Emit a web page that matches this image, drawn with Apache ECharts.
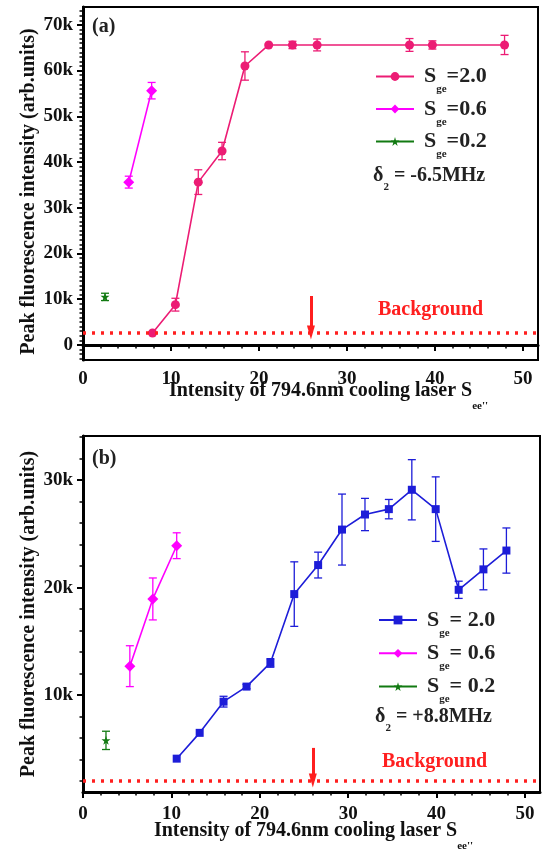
<!DOCTYPE html>
<html><head><meta charset="utf-8">
<script src="https://cdn.jsdelivr.net/npm/echarts@6/dist/echarts.min.js"></script>
<style>html,body{margin:0;padding:0;background:#fff}#c{width:543px;height:854px}</style>
</head><body><div id="c"></div>
<script>
// ---------- Panel (a) ----------
const a20X = [7.9, 10.5, 13.1, 15.8, 18.4, 21.1, 23.8, 26.6, 37.1, 39.7, 47.9];
const a20Y = [2600, 8800, 35600, 42400, 61000, 65600, 65600, 65600, 65600, 65600, 65600];
const a20E = [0, 1400, 2700, 1900, 3100, 0, 800, 1300, 1400, 900, 2100];
const a06X = [5.2, 7.8];
const a06Y = [35600, 55600];
const a06E = [1300, 1800];
const a02X = [2.5];
const a02Y = [10500];
const a02E = [800];
const aBackground = 2700;
const aArrow = [25.9, 10700];
// ---------- Panel (b) ----------
const b20X = [10.6, 13.2, 15.9, 18.5, 21.2, 23.9, 26.6, 29.3, 31.9, 34.6, 37.2, 39.9, 42.5, 45.3, 47.9];
const b20Y = [4100, 6500, 9400, 10800, 13000, 19400, 22100, 25400, 26800, 27300, 29100, 27300, 19800, 21700, 23450];
const b20E = [0, 0, 500, 200, 400, 3000, 1200, 3300, 1500, 900, 2800, 3000, 800, 1900, 2100];
const b06X = [5.3, 7.9, 10.6];
const b06Y = [12700, 18950, 23900];
const b06E = [1900, 1950, 1200];
const b02X = [2.6];
const b02Y = [5800];
const b02E = [850];
const bBackground = 2070;
const bArrow = [26.0, 5100];
// ---------- ticks ----------
const xTicks = [0, 10, 20, 30, 40, 50];
const aYTicks = [0, 10000, 20000, 30000, 40000, 50000, 60000, 70000];
const bYTicks = [10000, 20000, 30000];
const xMinor = [], aYMinor = [], bYMinor = [];
for (let v = 2; v <= 50; v += 2) if (v % 10) xMinor.push(v);
for (let v = -3000; v <= 73000; v += 1000) if (v % 10000) aYMinor.push(v);
for (let v = 2000; v <= 34000; v += 2000) if (v % 10000) bYMinor.push(v);

const legendNames = {
  a20: '{s|S}{g|ge}{v|=2.0}', a06: '{s|S}{g|ge}{v|=0.6}', a02: '{s|S}{g|ge}{v|=0.2}',
  b20: '{s|S}{g|ge}{v|= 2.0}', b06: '{s|S}{g|ge}{v|= 0.6}', b02: '{s|S}{g|ge}{v|= 0.2}'
};

const FONT = '"Liberation Serif", "Times New Roman", serif';
const PINK = '#ec1c74', MAG = '#ff00ff', GREEN = '#127a12', BLUE = '#1d1dd8', RED = '#ff1f1f';
const STAR = 'path://M50,0 L61,35 L98,35 L68,57 L79,91 L50,70 L21,91 L32,57 L2,35 L39,35 Z';

function mkX(grid, labelMargin, nameGap, padLeft) {
  return [
    {type: 'value', gridIndex: grid, min: 0, max: 51.7, position: 'bottom',
     axisLine: {show: true, lineStyle: {color: '#000', width: 3}},
     axisTick: {show: true, customValues: xTicks, length: 6, lineStyle: {color: '#000', width: 2}},
     axisLabel: {customValues: xTicks, margin: labelMargin, fontSize: 19, fontWeight: 'bold', fontFamily: FONT, color: '#111'},
     splitLine: {show: false},
     name: "{t|Intensity of 794.6nm cooling laser S}{s|ee''}", nameLocation: 'middle', nameGap: nameGap,
     nameMoveOverlap: false,
     nameTextStyle: {padding: [0, 0, 0, padLeft], rich: {
       t: {fontSize: 20, fontWeight: 'bold', fontFamily: FONT, color: '#111', lineHeight: 22},
       s: {fontSize: 11, fontWeight: 'bold', fontFamily: FONT, color: '#111', lineHeight: 11, padding: [30, 0, 0, 0]}}}},
    {type: 'value', gridIndex: grid, min: 0, max: 51.7, position: 'bottom',
     axisLine: {show: false},
     axisTick: {show: true, customValues: xMinor, length: 3.5, lineStyle: {color: '#000', width: 1.5}},
     axisLabel: {show: false}, splitLine: {show: false}}
  ];
}
function mkY(grid, min, max, ticks, minor, padRight) {
  return [
    {type: 'value', gridIndex: grid, min: min, max: max, position: 'left',
     axisLine: {show: true, lineStyle: {color: '#000', width: 3}},
     axisTick: {show: true, customValues: ticks, length: 6, lineStyle: {color: '#000', width: 2}},
     axisLabel: {customValues: ticks, margin: 10, fontSize: 19, fontWeight: 'bold', fontFamily: FONT, color: '#111',
       formatter: v => v === 0 ? '0' : (v / 1000) + 'k'},
     splitLine: {show: false},
     name: 'Peak fluorescence intensity (arb.units)', nameLocation: 'middle', nameGap: 44,
     nameMoveOverlap: false,
     nameTextStyle: {fontSize: 20, fontWeight: 'bold', fontFamily: FONT, color: '#111', padding: [0, padRight, 0, 0]}},
    {type: 'value', gridIndex: grid, min: min, max: max, position: 'left',
     axisLine: {show: false},
     axisTick: {show: true, customValues: minor, length: 3.5, lineStyle: {color: '#000', width: 1.5}},
     axisLabel: {show: false}, splitLine: {show: false}}
  ];
}
function pts(xs, ys) { return xs.map((x, i) => [x, ys[i]]); }
function lineS(name, xs, ys, color, symbol, size, ai) {
  return {name, type: 'line', xAxisIndex: ai, yAxisIndex: ai, data: pts(xs, ys),
    symbol, symbolSize: size, showSymbol: true, itemStyle: {color}, lineStyle: {color, width: 1.6}, z: 4};
}
function errS(xs, ys, es, color, ai) {
  return {type: 'custom', xAxisIndex: ai, yAxisIndex: ai, silent: true, z: 3,
    data: xs.map((x, i) => [x, ys[i], es[i]]), encode: {x: 0, y: 1},
    renderItem(params, api) {
      const x = api.value(0), y = api.value(1), e = api.value(2);
      if (!e) return null;
      const p1 = api.coord([x, y + e]), p2 = api.coord([x, y - e]);
      const w = 4, st = {stroke: color, lineWidth: 1.3};
      return {type: 'group', children: [
        {type: 'line', shape: {x1: p1[0], y1: p1[1], x2: p2[0], y2: p2[1]}, style: st},
        {type: 'line', shape: {x1: p1[0] - w, y1: p1[1], x2: p1[0] + w, y2: p1[1]}, style: st},
        {type: 'line', shape: {x1: p2[0] - w, y1: p2[1], x2: p2[0] + w, y2: p2[1]}, style: st}]};
    }};
}
function bgMark(level, arrow) {
  return {silent: true, symbol: ['none', 'none'], label: {show: false}, animation: false,
    data: [
      {yAxis: level, lineStyle: {color: RED, type: [3, 6], width: 3.5}},
      [{coord: [arrow[0], arrow[1]], symbol: 'none', lineStyle: {color: RED, type: 'solid', width: 3}},
       {coord: [arrow[0], level], symbol: 'triangle', symbolSize: [8, 14]}]
    ]};
}
const legendRich = {
  s: {fontSize: 22, fontWeight: 'bold', fontFamily: FONT, color: '#222', lineHeight: 24, padding: [0, 0, 0, 5]},
  g: {fontSize: 11, fontWeight: 'bold', fontFamily: FONT, color: '#222', lineHeight: 11, padding: [26, 0, 0, 0]},
  v: {fontSize: 22, fontWeight: 'bold', fontFamily: FONT, color: '#222', lineHeight: 24}
};
function mkLegend(data, left, top, gap) {
  return {data, left, top, padding: 0, orient: 'vertical', itemWidth: 38, itemHeight: 11, itemGap: gap,
    selectedMode: false, formatter: n => legendNames[n], textStyle: {rich: legendRich}};
}
function deltaText(x, y, txt) {
  return {type: 'text', x, y, style: {text: '{d|δ}{n|2}{t|' + txt + '}', verticalAlign: 'middle',
    rich: {d: {fontSize: 20, fontWeight: 'bold', fontFamily: FONT, fill: '#222', lineHeight: 22},
           n: {fontSize: 11, fontWeight: 'bold', fontFamily: FONT, fill: '#222', lineHeight: 11, padding: [22, 0, 0, 0]},
           t: {fontSize: 20, fontWeight: 'bold', fontFamily: FONT, fill: '#222', lineHeight: 22}}}};
}
function plainText(x, y, txt, color) {
  return {type: 'text', x, y, style: {text: txt, verticalAlign: 'middle', font: 'bold 20px ' + FONT, fill: color}};
}

const a02 = lineS('a02', a02X, a02Y, GREEN, STAR, 9, 0);
a02.markLine = bgMark(aBackground, aArrow);
const b02 = lineS('b02', b02X, b02Y, GREEN, STAR, 9, 2);
b02.markLine = bgMark(bBackground, bArrow);

const option = {
  animation: false,
  backgroundColor: '#fff',
  grid: [
    {left: 83, right: 5, top: 7, height: 353, show: true, borderColor: '#000', borderWidth: 2, outerBoundsMode: 'none'},
    {left: 83, right: 3, top: 436, height: 356, show: true, borderColor: '#000', borderWidth: 2, outerBoundsMode: 'none'}
  ],
  xAxis: [...mkX(0, 9.5, 20, 36), ...mkX(1, 13, 28, 4)],
  yAxis: [...mkY(0, -3300, 73900, aYTicks, aYMinor, 16), ...mkY(1, 1000, 34100, bYTicks, bYMinor, 0)],
  legend: [mkLegend(['a20', 'a06', 'a02'], 375, 58, -4.5), mkLegend(['b20', 'b06', 'b02'], 378, 601.5, -3.7)],
  series: [
    errS(a20X, a20Y, a20E, PINK, 0), lineS('a20', a20X, a20Y, PINK, 'circle', 9, 0),
    errS(a06X, a06Y, a06E, MAG, 0), lineS('a06', a06X, a06Y, MAG, 'diamond', 11, 0),
    errS(a02X, a02Y, a02E, GREEN, 0), a02,
    errS(b20X, b20Y, b20E, BLUE, 2), lineS('b20', b20X, b20Y, BLUE, 'rect', 8, 2),
    errS(b06X, b06Y, b06E, MAG, 2), lineS('b06', b06X, b06Y, MAG, 'diamond', 11, 2),
    errS(b02X, b02Y, b02E, GREEN, 2), b02
  ],
  graphic: [
    plainText(92, 27, '(a)', '#222'),
    plainText(92, 459, '(b)', '#222'),
    plainText(378, 310, 'Background', RED),
    plainText(382, 762, 'Background', RED),
    deltaText(373, 176, ' = -6.5MHz'),
    deltaText(375, 717, ' = +8.8MHz')
  ]
};
const chart = echarts.init(document.getElementById('c'), null, {renderer: 'canvas'});
chart.setOption(option);
</script></body></html>
